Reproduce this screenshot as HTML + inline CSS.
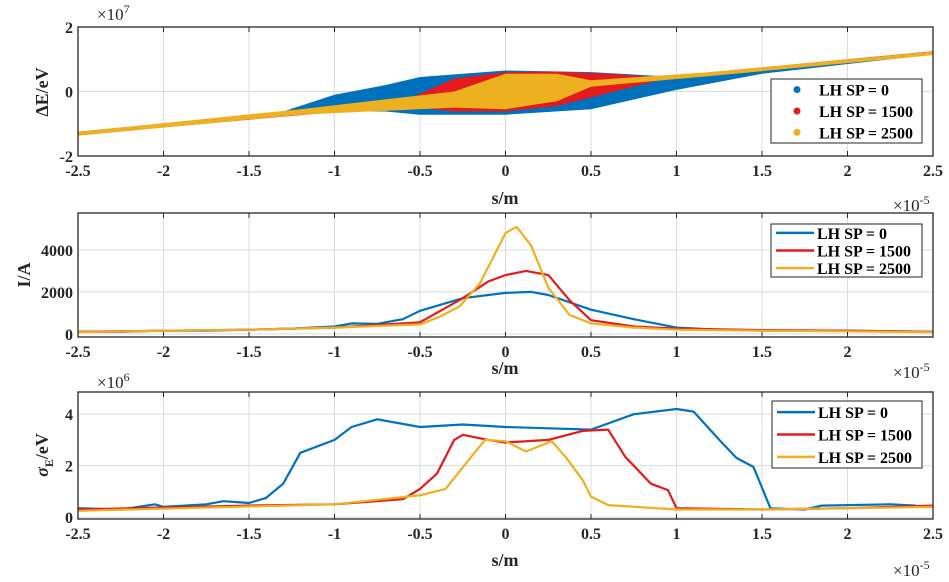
<!DOCTYPE html>
<html><head><meta charset="utf-8"><style>
body{margin:0;background:#fff;}
svg{display:block;font-family:"Liberation Serif",serif;}
.tk{font-size:16px;font-weight:bold;fill:#262626;}
.lb{font-size:18px;font-weight:bold;fill:#262626;}
.lg{font-size:16px;font-weight:bold;fill:#000;}
.ex{font-size:17px;fill:#262626;}
</style></head><body>
<svg id="fig" width="949" height="582" viewBox="0 0 949 582"></svg>
<script>
// ---- data ----
const xTicks=[-2.5,-2,-1.5,-1,-0.5,0,0.5,1,1.5,2,2.5];
const xTickLabels=["-2.5","-2","-1.5","-1","-0.5","0","0.5","1","1.5","2","2.5"];
const seriesNames=["LH SP = 0","LH SP = 1500","LH SP = 2500"];
// top panel envelopes (s in 1e-5 m, dE in 1e7 eV)
const envBlueS=[-2.5,-1.3,-1.0,-0.7,-0.5,0,0.5,1.0,1.5,2.5];
const envBlueHi=[-1.25,-0.62,-0.1,0.2,0.45,0.65,0.6,0.45,0.65,1.25];
const envBlueLo=[-1.35,-0.72,-0.6,-0.62,-0.72,-0.72,-0.55,0.05,0.55,1.15];
const envRedS=[-2.5,-0.6,-0.3,0,0.3,0.6,0.9,2.5];
const envRedHi=[-1.25,-0.3,0.4,0.6,0.62,0.55,0.45,1.25];
const envRedLo=[-1.35,-0.45,-0.62,-0.62,-0.45,-0.05,0.35,1.15];
const envYelS=[-2.5,-1.2,-0.3,0,0.3,0.5,1.2,2.5];
const envYelHi=[-1.25,-0.55,0.0,0.55,0.55,0.35,0.6,1.24];
const envYelLo=[-1.37,-0.72,-0.5,-0.55,-0.3,0.15,0.48,1.13];
// middle panel current
const curS0=[-2.5,-2.25,-2,-1.75,-1.5,-1.25,-1,-0.9,-0.75,-0.6,-0.5,-0.25,0,0.15,0.25,0.5,0.75,1,1.25,1.5,2,2.5];
const curBlue=[100,100,150,150,200,250,350,500,480,700,1100,1700,1950,2000,1850,1150,700,300,200,150,150,100];
const curS1=[-2.5,-2,-1.5,-1,-0.5,-0.25,-0.1,0,0.12,0.25,0.375,0.5,0.75,1,1.5,2,2.5];
const curRed=[100,150,200,300,550,1700,2500,2800,3000,2800,1600,650,350,250,180,150,100];
const curS2=[-2.5,-2,-1.5,-1,-0.5,-0.39,-0.27,-0.15,0,0.065,0.15,0.25,0.375,0.5,0.75,1,1.5,2,2.5];
const curYel=[80,150,200,300,450,800,1300,2400,4800,5100,4200,2200,900,500,300,200,150,120,80];
// bottom panel sigma (1e6 eV)
const sigS0=[-2.5,-2.25,-2.05,-2,-1.75,-1.65,-1.5,-1.4,-1.3,-1.2,-1.0,-0.9,-0.75,-0.5,-0.25,0,0.25,0.5,0.75,1.0,1.1,1.25,1.35,1.45,1.55,1.75,1.85,2.25,2.4];
const sigBlue=[0.35,0.3,0.5,0.4,0.5,0.62,0.55,0.75,1.3,2.5,3.0,3.5,3.8,3.5,3.6,3.5,3.45,3.4,4.0,4.2,4.1,3.0,2.3,1.95,0.34,0.3,0.45,0.5,0.45];
const sigS1=[-2.5,-1.5,-1.0,-0.6,-0.5,-0.4,-0.3,-0.25,-0.1,0,0.25,0.45,0.6,0.7,0.85,0.95,1.0,1.5,2.0,2.5];
const sigRed=[0.3,0.45,0.5,0.7,1.1,1.7,3.0,3.2,3.0,2.9,3.0,3.35,3.4,2.35,1.3,1.05,0.35,0.3,0.35,0.45];
const sigS2=[-2.5,-1.0,-0.5,-0.35,-0.2,-0.12,0,0.12,0.27,0.35,0.45,0.5,0.6,1.0,1.5,2.0,2.5];
const sigYel=[0.25,0.5,0.85,1.1,2.35,3.0,2.95,2.55,2.95,2.35,1.45,0.8,0.47,0.3,0.3,0.35,0.4];
const colors=["#0072BD","#E41A1C","#EDB120"];

// ---- drawing ----
const NS="http://www.w3.org/2000/svg";
const svg=document.getElementById('fig');
function el(t,a,p){const e=document.createElementNS(NS,t);for(const k in a)e.setAttribute(k,a[k]);(p||svg).appendChild(e);return e;}
function txt(s,a,p){const e=el('text',a,p);e.textContent=s;return e;}
const L=78,R=933;
function sx(v){return L+(v+2.5)/5*(R-L);}
function panel(name,top,bot,ymin,ymax,yTicks,yLabels,showLast){
  const g=el('g',{});
  
  
  const sy=v=>bot-(v-ymin)/(ymax-ymin)*(bot-top);
  xTicks.forEach((t,i)=>{
    const x=sx(t);
    el('line',{x1:x,x2:x,y1:top,y2:bot,stroke:'#dcdcdc','stroke-width':1},g);
    if(i<xTicks.length-1||showLast){const l=txt(xTickLabels[i],{x:x,y:bot+20,'text-anchor':'middle',class:'tk'},g);
    
    }
  });
  yTicks.forEach((t,i)=>{
    const y=sy(t);
    el('line',{x1:L,x2:R,y1:y,y2:y,stroke:'#dcdcdc','stroke-width':1},g);
    const l=txt(yLabels[i],{x:L-5,y:y+6,'text-anchor':'end',class:'tk'},g);
    
    
  });
  return {g,sy};
}
function frame(g,top,bot){
  el('rect',{x:L,y:top,width:R-L,height:bot-top,fill:'none',stroke:'#262626','stroke-width':1.3},g);
  xTicks.forEach(t=>{const x=sx(t);el('line',{x1:x,x2:x,y1:top,y2:top+5,stroke:'#262626'},g);el('line',{x1:x,x2:x,y1:bot,y2:bot-5,stroke:'#262626'},g);});
}
function line(g,xs,ys,sy,c,name){
  const p=el('polyline',{points:xs.map((v,i)=>sx(v).toFixed(1)+','+sy(ys[i]).toFixed(1)).join(' '),fill:'none',stroke:c,'stroke-width':2.2,'stroke-linejoin':'round'},g);
  
  
}
function band(g,xs,hi,lo,sy,c,name){
  const pts=xs.map((v,i)=>sx(v).toFixed(1)+','+sy(hi[i]).toFixed(1)).concat(xs.slice().reverse().map((v,j)=>{const i=xs.length-1-j;return sx(v).toFixed(1)+','+sy(lo[i]).toFixed(1);}));
  const p=el('polygon',{points:pts.join(' '),fill:c},g);
  
  
}
function legend(g,x,y,w,h,marker){
  const lg=el('g',{},g);
  
  
  el('rect',{x:x,y:y,width:w,height:h,fill:'#fff',stroke:'#262626','stroke-width':1},lg);
  seriesNames.forEach((n,i)=>{
    const yy=y+h/6+i*h/3;
    if(marker)el('circle',{cx:x+26,cy:yy,r:3.5,fill:colors[i]},lg);
    else el('line',{x1:x+5,x2:x+43,y1:yy,y2:yy,stroke:colors[i],'stroke-width':2.5},lg);
    const t=txt(n,{x:x+(marker?48:46),y:yy+6,class:'lg'},lg);
    
    
  });
}
// top
{const T=27,B=156;const {g,sy}=panel('scatter-panel',T,B,-2,2,[2,0,-2],["2","0","-2"],true);
band(g,envBlueS,envBlueHi,envBlueLo,sy,colors[0],'series-lhsp0');
band(g,envRedS,envRedHi,envRedLo,sy,colors[1],'series-lhsp1500');
band(g,envYelS,envYelHi,envYelLo,sy,colors[2],'series-lhsp2500');
frame(g,T,B);legend(g,771,79,151,64,true);
const a=txt('',{x:97,y:20,class:'ex'},g);a.innerHTML='×10<tspan dy="-7" font-size="12">7</tspan>';
const yl=txt('ΔE/eV',{x:0,y:0,class:'lb','text-anchor':'middle',transform:'translate(48,92) rotate(-90)'},g);

txt('s/m',{x:505,y:204,'text-anchor':'middle',class:'lb'},g);
const e=txt('',{x:893,y:211,class:'ex'},g);e.innerHTML='×10<tspan dy="-7" font-size="12">-5</tspan>';}
// middle
{const T=213,B=337;const {g,sy}=panel('current-panel',T,B,-150,5760,[4000,2000,0],["4000","2000","0"],false);
line(g,curS0,curBlue,sy,colors[0],'series-lhsp0');
line(g,curS1,curRed,sy,colors[1],'series-lhsp1500');
line(g,curS2,curYel,sy,colors[2],'series-lhsp2500');
frame(g,T,B);legend(g,771,224,151,53,false);
const yl=txt('I/A',{x:0,y:0,class:'lb','text-anchor':'middle',transform:'translate(30,275) rotate(-90)'},g);

txt('s/m',{x:505,y:374,'text-anchor':'middle',class:'lb'},g);
const e=txt('',{x:893,y:378,class:'ex'},g);e.innerHTML='×10<tspan dy="-7" font-size="12">-5</tspan>';}
// bottom
{const T=392,B=519;const {g,sy}=panel('sigma-panel',T,B,-0.07,4.86,[4,2,0],["4","2","0"],true);
line(g,sigS0,sigBlue,sy,colors[0],'series-lhsp0');
line(g,sigS1,sigRed,sy,colors[1],'series-lhsp1500');
line(g,sigS2,sigYel,sy,colors[2],'series-lhsp2500');
frame(g,T,B);legend(g,772,401,150,67,false);
const a=txt('',{x:97,y:388,class:'ex'},g);a.innerHTML='×10<tspan dy="-7" font-size="12">6</tspan>';
const yl=txt('',{x:0,y:0,class:'lb','text-anchor':'middle',transform:'translate(48,455) rotate(-90)'},g);
yl.innerHTML='<tspan font-style="italic">σ</tspan><tspan dy="5" font-size="12">E</tspan><tspan dy="-5">/eV</tspan>';

txt('s/m',{x:505,y:566,'text-anchor':'middle',class:'lb'},g);
const e=txt('',{x:893,y:576,class:'ex'},g);e.innerHTML='×10<tspan dy="-7" font-size="12">-5</tspan>';}
</script>
</body></html>
